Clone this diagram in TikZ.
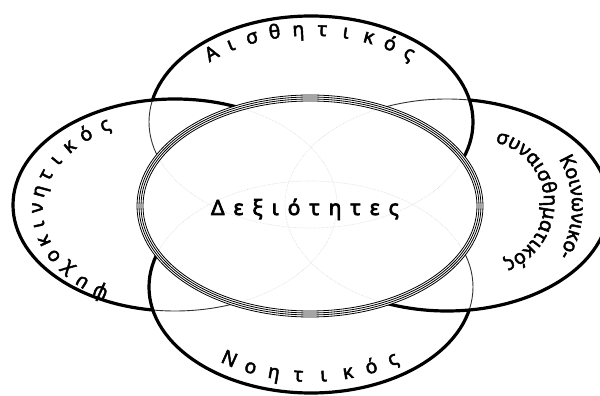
\documentclass[tikz,border=0pt]{standalone}
\usepackage{fontspec}
\setmainfont{Noto Sans}
\newfontfamily\lblfont{Noto Sans}[FakeBold=2.5]
\newfontfamily\ctrfont{Noto Sans}[FakeBold=3.5]
\usetikzlibrary{decorations.text}
\newcommand\lbl{\lblfont\fontsize{19.5}{19.5}\selectfont}
\newcommand\gp{\kern9pt}
\begin{document}
\begin{tikzpicture}[x=1pt,y=1pt,
  thickline/.style={line width=3.2pt},
  thinline/.style={line width=0.9pt, black!80},
  faint/.style={line width=0.6pt, gray!30, densely dotted},
  ring/.style={line width=0.8pt},
  letter/.style={inner sep=0pt, anchor=mid, font=\lbl}]
\useasboundingbox (0,0) rectangle (600,396);
\clip (0,0) rectangle (600,396);
\fill[white] (0,0) rectangle (600,396);

% petals faint inside the central ellipse
\begin{scope}
  \clip (310,190) ellipse [x radius=167, y radius=105];
  \foreach \c in {(311,274),(311,109),(175,191),(447,191)}
    \draw[faint] \c ellipse [x radius=162, y radius=106];
\end{scope}

% petals outside the central ellipse (clockwise frame + counter-clockwise ellipse = hole)
\begin{scope}
  \clip (-20,-20) -- (-20,420) -- (620,420) -- (620,-20) -- cycle
        (310,190) ellipse [x radius=173, y radius=111];
  \foreach \c in {(311,274),(311,109),(175,191),(447,191)}
    \draw[thinline] \c ellipse [x radius=162, y radius=106];
  % top: under left
  \begin{scope}
    \clip (-20,-20) -- (-20,420) -- (620,420) -- (620,-20) -- cycle
          (175,191) ellipse [x radius=162, y radius=106];
    \draw[thickline] (311,274) ellipse [x radius=162, y radius=106];
  \end{scope}
  % right: under top
  \begin{scope}
    \clip (-20,-20) -- (-20,420) -- (620,420) -- (620,-20) -- cycle
          (311,274) ellipse [x radius=162, y radius=106];
    \draw[thickline] (447,191) ellipse [x radius=162, y radius=106];
  \end{scope}
  % bottom: under right
  \begin{scope}
    \clip (-20,-20) -- (-20,420) -- (620,420) -- (620,-20) -- cycle
          (447,191) ellipse [x radius=162, y radius=106];
    \draw[thickline] (311,109) ellipse [x radius=162, y radius=106];
  \end{scope}
  % left: under bottom
  \begin{scope}
    \clip (-20,-20) -- (-20,420) -- (620,420) -- (620,-20) -- cycle
          (311,109) ellipse [x radius=162, y radius=106];
    \draw[thickline] (175,191) ellipse [x radius=162, y radius=106];
  \end{scope}
\end{scope}

% central ring
\foreach \rx/\ry in {167/105,169/107,171/109,173/111}
  \draw[ring] (310,190) ellipse [x radius=\rx, y radius=\ry];

\node[font=\ctrfont\fontsize{21}{21}\selectfont, inner sep=0pt, anchor=base] (ctr) at (305,181)
  {Δ\gp ε\gp ξ\gp ι\gp ό\gp τ\gp η\gp τ\gp ε\gp ς};

% top label
\foreach \ch [count=\i from 0] in {Α,ι,σ,θ,η,τ,ι,κ,ό,ς}{
  \pgfmathsetmacro\t{133-9.5*\i}
  \pgfmathsetmacro\px{311+143*cos(\t)}
  \pgfmathsetmacro\py{274+89*sin(\t)}
  \pgfmathsetmacro\rt{atan2(-89*cos(\t),143*sin(\t))}
  \node[letter,rotate=\rt] (ta\i) at (\px,\py) {\ch};
}
% left label
\foreach \ch [count=\i from 0] in {ψ,υ,χ,ο,κ,ι,ν,η,τ,ι,κ,ό,ς}{
  \pgfmathsetmacro\t{237-9.7*\i}
  \pgfmathsetmacro\px{175+135*cos(\t)}
  \pgfmathsetmacro\py{186+95*sin(\t)}
  \pgfmathsetmacro\rt{atan2(-95*cos(\t),135*sin(\t))}
  \node[letter,rotate=\rt] (la\i) at (\px,\py) {\ch};
}
% bottom label
\foreach \ch [count=\i from 0] in {Ν,ο,η,τ,ι,κ,ό,ς}{
  \pgfmathsetmacro\t{235+10*\i}
  \pgfmathsetmacro\px{311+145*cos(\t)}
  \pgfmathsetmacro\py{109+92*sin(\t)}
  \pgfmathsetmacro\rt{atan2(92*cos(\t),-145*sin(\t))}
  \node[letter,rotate=\rt] (ba\i) at (\px,\py) {\ch};
}
% right labels
\path[decorate, decoration={text along path, text={|\lbl|Κοινωνικο-}, text align=center}]
  ([shift={(36:94)}]478,189) arc [start angle=36, end angle=-36, radius=94];
\path[decorate, decoration={text along path, text={|\lbl|συναισθηματικός}, text align=center}]
  ([shift={(82:62)}]482,193) arc [start angle=82, end angle=-74, radius=62];
\end{tikzpicture}
\end{document}
